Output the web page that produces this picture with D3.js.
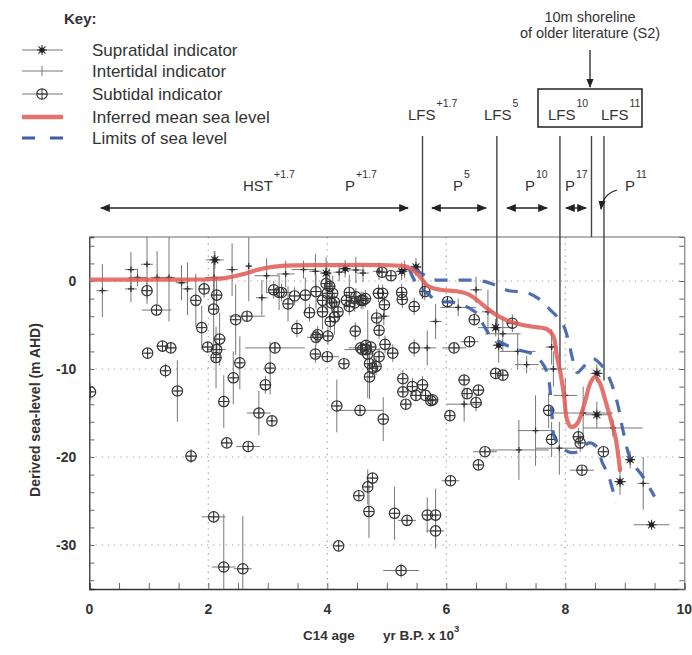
<!DOCTYPE html>
<html><head><meta charset="utf-8">
<script src="https://cdn.jsdelivr.net/npm/d3@7/dist/d3.min.js"></script>
<style>body{margin:0;background:#fff}svg{display:block}text{font-family:"Liberation Sans",Arial,sans-serif}</style>
</head><body><svg id="c" width="692" height="655"></svg>
<script>
// ---------- DATA ----------
// [age (kyr BP), level (m AHD), age half-error, level half-error]
const subtidalPts = [
 [0.02,-12.6,0.05,1],[0.97,-1.1,0.1,1.5],[1.13,-3.3,0.25,0.5],[0.98,-8.2,0.05,0.5],[1.23,-7.4,0.1,0.5],
 [1.37,-7.6,0.1,0.5],[1.28,-10.2,0.05,0.8],[1.48,-12.5,0.05,3.5],[1.71,-19.9,0.1,0.8],[1.79,-2.2,0.05,3],
 [1.93,-0.9,0.1,1],[1.89,-5.3,0.05,2.5],[1.99,-7.5,0.1,0.6],[2.14,-7.8,0.15,0.6],[2.19,-6.6,0.1,3],
 [2.13,-8.7,0.05,3.5],[2.14,-1.6,0.1,2],[2.09,-3.2,0.05,6],[2.46,-4.4,0.05,4],[2.65,-4.0,0.3,0.6],
 [2.53,-9.3,0.05,3],[2.42,-11.0,0.05,3],[2.26,-13.7,0.05,3],[2.31,-18.4,0.1,0.3],[2.67,-18.8,0.2,0.3],
 [2.09,-26.8,0.2,0.3],[2.26,-32.5,0.2,6],[2.58,-32.7,0.15,6],[3.04,-9.9,0.05,3],[2.96,-11.8,0.1,1],
 [2.85,-15.0,0.2,2.5],[3.07,-15.9,0.05,0.5],[3.12,-7.6,0.5,0.5],[3.10,-1.0,0.1,1],[3.19,-1.3,0.2,2],
 [3.34,-2.6,0.05,2],[3.45,-1.7,0.1,1],[3.49,-5.4,0.1,1],[3.23,-1.3,0.1,1],[3.63,-1.6,0.1,2],
 [3.81,-1.2,0.1,2],[3.70,-3.6,0.1,1],[3.92,-3.5,0.1,2],[3.92,-2.2,0.1,1],[3.98,-0.3,0.05,3],
 [4.04,-0.6,0.1,2],[4.09,-1.4,0.05,2],[4.00,-1.4,0.05,2],[4.12,-2.4,0.1,1],[4.07,-2.5,0.05,1],
 [4.18,-3.5,0.05,1],[4.12,-4.1,0.1,2],[4.05,-4.6,0.05,1],[3.84,-6.1,0.1,1],[3.81,-6.4,0.15,1],
 [4.01,-6.25,0.1,1],[3.80,-8.3,0.05,1],[4.00,-8.6,0.2,0.5],[4.28,-9.4,0.05,0.5],[4.37,-1.3,0.05,2],
 [4.37,-2.9,0.05,1],[4.46,-2.5,0.1,1],[4.57,-2.2,0.1,1],[4.64,-2.0,0.1,1],[4.47,-5.7,0.05,1],
 [4.56,-7.6,0.2,0.5],[4.65,-7.3,0.1,0.5],[4.73,-7.5,0.1,0.5],[4.65,-7.8,0.1,0.5],[4.59,-7.8,0.3,0.3],
 [4.68,-8.3,0.05,5],[4.87,-8.6,0.05,1],[4.97,-7.2,0.1,1],[5.10,-8.2,0.1,1],[4.71,-9.4,0.05,1],
 [4.76,-9.9,0.05,1],[4.82,-9.7,0.05,1],[4.71,-10.9,0.05,2.5],[4.87,-5.6,0.05,1],[4.83,-4.2,0.05,1],
 [4.86,-1.4,0.1,1],[4.93,-1.4,0.1,1],[4.96,-2.7,0.05,1],[5.07,0.6,0.1,0.5],[4.92,1.0,0.1,0.5],
 [5.25,-1.3,0.05,1],[5.26,-2.1,0.05,1],[5.46,-2.9,0.05,1],[5.64,-1.2,0.05,1],[5.46,-7.6,0.1,1],
 [5.27,-11.1,0.05,1],[5.43,-12.0,0.1,1],[5.60,-11.8,0.1,1],[5.49,-13.0,0.1,0.5],[5.65,-13.0,0.1,0.5],
 [5.77,-13.5,0.1,0.5],[5.32,-14.0,0.1,0.5],[5.27,-12.6,0.05,0.5],[4.16,-14.2,0.05,3],[4.55,-14.7,0.4,0.3],
 [4.94,-15.7,0.05,2.5],[4.76,-22.4,0.1,0.3],[4.68,-23.4,0.05,2],[4.53,-24.4,0.05,0.3],[4.70,-26.2,0.05,3],
 [5.13,-26.4,0.05,3],[4.19,-30.1,0.05,0.3],[5.24,-32.9,0.3,0.8],[5.34,-27.2,0.15,0.3],[5.68,-26.6,0.05,2],
 [5.82,-26.6,0.05,3],[5.82,-28.4,0.15,2],[5.74,-13.6,0.05,0.5],[6.50,-13.8,0.05,1],[6.06,-15.3,0.05,0.5],
 [6.65,-19.4,0.2,0.3],[6.54,-20.9,0.05,0.3],[6.07,-22.7,0.15,0.3],[6.02,-2.35,0.1,0.5],[6.47,-4.4,0.05,0.5],
 [6.13,-7.6,0.2,0.5],[6.39,-6.9,0.15,0.5],[6.30,-11.25,0.1,0.5],[6.83,-10.5,0.1,0.5],[6.95,-10.7,0.1,0.5],
 [6.35,-12.8,0.1,0.5],[6.54,-12.4,0.1,0.5],[7.72,-14.7,0.1,2],[7.77,-18.0,0.1,2],[8.22,-17.7,0.1,1],
 [8.25,-18.4,0.05,1],[8.28,-21.5,0.2,0.3],[8.64,-19.4,0.05,0.5],[7.11,-4.8,0.1,1],[4.32,-2.2,0.05,1],
 [4.48,-1.8,0.05,1],[4.60,-2.2,0.05,1]
];
const intertidalPts = [
 [0.22,-1.1,0.1,3],[0.70,1.3,0.1,2],[0.70,-0.9,0.1,1.5],[0.81,0.4,0.15,1],[0.97,1.9,0.1,4],
 [1.14,0.4,0.1,3],[1.34,0.4,0.1,5],[1.65,-0.9,0.1,3],[2.10,0.4,0.15,3],[2.40,1.3,0.1,3],
 [2.68,1.7,0.05,4],[2.98,0.6,0.2,2],[2.90,-1.9,0.1,2],[1.55,-0.2,0.1,2],[3.30,0.8,0.15,1.5],
 [3.60,1.3,0.2,1],[3.80,1.1,0.1,2],[4.20,1.0,0.1,1],[4.48,1.25,0.15,1.5],[4.60,0.9,0.1,1],
 [4.87,1.1,0.1,1],[5.30,1.3,0.1,1],[5.82,-4.6,0.1,2],[5.68,-7.6,0.15,2],[6.20,-3.0,0.3,1],
 [6.50,-1.0,0.1,1.5],[6.70,-3.5,0.1,2.5],[6.95,-6.0,0.3,2],[7.20,-8.0,0.3,2],[7.35,-9.5,0.2,1],
 [7.50,-17.0,0.3,4],[7.22,-19.2,0.5,3.4],[7.90,-19.0,0.4,3],[8.00,-13.0,0.2,2],[8.30,-15.0,0.5,3],
 [8.80,-16.7,0.5,1],[9.31,-23.0,0.1,3],[7.77,-7.5,0.1,2],[7.80,-10.0,0.2,2],[6.30,-14.0,0.3,2],
 [4.95,-4.0,0.1,1]
];
const supratidalPts = [
 [2.11,2.4,0.15,1],[3.98,0.9,0.1,1],[4.30,1.4,0.1,1],[5.25,1.1,0.1,1],[5.49,1.6,0.1,1],
 [6.83,-5.3,0.3,1],[6.88,-7.3,0.1,2],[8.53,-10.5,0.1,1],[8.53,-15.2,0.2,1.5],[8.92,-22.8,0.1,1.5],
 [9.09,-20.3,0.05,1],[9.45,-27.7,0.3,0.3]
];
// inferred mean sea level [age, level]
const meanLevel = [[0,0.15],[1.0,0.15],[2.0,0.2],[2.3,0.35],[2.6,0.8],[2.9,1.4],[3.2,1.7],[4.0,1.8],[4.9,1.8],
 [5.35,1.6],[5.5,0.9],[5.7,-0.6],[5.9,-1.0],[6.2,-1.2],[6.4,-1.6],[6.55,-2.35],[6.72,-3.3],[6.93,-4.2],
 [7.16,-4.8],[7.45,-5.2],[7.7,-5.5],[7.8,-6.3],[7.86,-8.6],[7.92,-10.5],[7.98,-13.1],[8.03,-15.8],
 [8.1,-16.6],[8.2,-16.2],[8.32,-14.0],[8.42,-11.6],[8.5,-10.9],[8.58,-11.6],[8.67,-13.5],[8.78,-16.1],
 [8.85,-18],[8.92,-21.5]];
const upperLimit = [[5.45,1.4],[5.6,0.8],[5.75,0.2],[6.0,0.1],[6.3,0.1],[6.6,0.0],[6.8,-0.4],[7.05,-1.1],
 [7.35,-1.3],[7.55,-2.0],[7.75,-3.3],[7.95,-4.8],[8.05,-6.7],[8.12,-8.8],[8.2,-10.4],[8.3,-9.8],[8.45,-8.8],
 [8.6,-9.5],[8.75,-11.2],[8.88,-14],[8.97,-17],[9.1,-20.3],[9.3,-22.2],[9.5,-24.5]];
const lowerLimit = [[5.38,1.3],[5.5,-0.3],[5.7,-1.5],[5.85,-2.3],[6.1,-2.4],[6.3,-2.8],[6.5,-3.6],[6.6,-4.7],
 [6.75,-6.3],[6.95,-7.1],[7.2,-7.8],[7.45,-8.3],[7.6,-9.2],[7.7,-10.5],[7.75,-12.8],[7.78,-15.5],[7.82,-17.8],
 [7.95,-19],[8.1,-19.5],[8.25,-19.3],[8.4,-18.4],[8.52,-18.8],[8.62,-20.6],[8.72,-22],[8.8,-23.8],[8.86,-25.2]];
const lfsAges = [5.6, 6.85, 7.91, 8.44, 8.65];
const lfsEnds = [-2, -5, -10, 5, -11.3];
const xTicks = [0,2,4,6,8,10];
const yTicks = [0,-10,-20,-30];
const legendLabels = ["Supratidal indicator","Intertidal indicator","Subtidal indicator","Inferred mean sea level","Limits of sea level"];

// ---------- DRAW ----------
const svg = d3.select("#c");
const x = d3.scaleLinear().domain([0,10]).range([89.3,684.3]);
const y = d3.scaleLinear().domain([-35,5]).range([589,237]);
const ink = "#333", grey = "#666";

svg.append("defs").append("clipPath").attr("id","clip").append("rect")
  .attr("x",x(0)).attr("y",y(5)).attr("width",x(10)-x(0)).attr("height",y(-35)-y(5));

// grid
const grid = svg.append("g").attr("stroke","#999").attr("stroke-dasharray","1.2,5").attr("stroke-width",1.2);
yTicks.forEach(v=>grid.append("line").attr("x1",x(0)).attr("x2",x(10)).attr("y1",y(v)).attr("y2",y(v)));
xTicks.slice(1,-1).forEach(v=>grid.append("line").attr("y1",y(5)).attr("y2",y(-35)).attr("x1",x(v)).attr("x2",x(v)));

// axes with inward ticks
svg.append("g").attr("transform",`translate(0,${y(-35)})`)
  .call(d3.axisTop(x).tickValues(d3.range(0,10.01,0.5)).tickSize(6).tickFormat(""))
  .call(g=>{g.select(".domain").attr("stroke",ink).attr("stroke-width",1.5);g.selectAll(".tick line").attr("stroke",grey);});
svg.append("g").attr("transform",`translate(${x(0)},0)`)
  .call(d3.axisRight(y).tickValues(d3.range(-34,5,2)).tickSize(5).tickFormat(""))
  .call(g=>{g.select(".domain").attr("stroke",ink).attr("stroke-width",1.3);g.selectAll(".tick line").attr("stroke",grey);});
svg.append("g").attr("transform",`translate(${x(10)},0)`)
  .call(d3.axisLeft(y).tickValues(d3.range(-34,5,2)).tickSize(5).tickFormat(""))
  .call(g=>{g.select(".domain").attr("stroke",grey).attr("stroke-width",1);g.selectAll(".tick line").attr("stroke",grey);});
svg.append("line").attr("x1",x(0)).attr("x2",x(10)).attr("y1",y(5)).attr("y2",y(5)).attr("stroke",grey);

// tick labels
svg.append("g").selectAll("text").data(xTicks).join("text")
  .attr("x",d=>x(d)).attr("y",614).attr("text-anchor","middle").attr("font-size",14).attr("font-weight","bold").attr("fill",ink).text(d=>d);
svg.append("g").selectAll("text").data(yTicks).join("text")
  .attr("x",x(0)-13).attr("y",d=>y(d)+5).attr("text-anchor","end").attr("font-size",14).attr("font-weight","bold").attr("fill",ink).text(d=>d);

// axis titles
const xl = svg.append("text").attr("y",640).attr("font-size",13.5).attr("font-weight","bold").attr("fill",ink);
xl.append("tspan").attr("x",303).text("C14 age");
xl.append("tspan").attr("x",383).text("yr B.P. x 10");
xl.append("tspan").attr("dy",-8).attr("font-size",9.5).text("3");
svg.append("text").attr("transform","translate(40,410) rotate(-90)").attr("text-anchor","middle")
  .attr("font-size",14).attr("font-weight","bold").attr("fill",ink).text("Derived sea-level  (m AHD)");

// LFS vertical lines
svg.append("g").selectAll("line").data(lfsAges).join("line")
  .attr("x1",d=>x(d)).attr("x2",d=>x(d)).attr("y1",136).attr("y2",(d,i)=>y(lfsEnds[i]))
  .attr("stroke","#444").attr("stroke-width",1.4);

const plot = svg.append("g").attr("clip-path","url(#clip)");

// symbols
function errBars(g,d){
  g.append("line").attr("x1",x(d[0]-d[2])).attr("x2",x(d[0]+d[2])).attr("y1",y(d[1])).attr("y2",y(d[1]));
  g.append("line").attr("x1",x(d[0])).attr("x2",x(d[0])).attr("y1",y(d[1]-d[3])).attr("y2",y(d[1]+d[3]));
}
const eb = plot.append("g").attr("stroke","#777").attr("stroke-width",1);
[...subtidalPts,...intertidalPts,...supratidalPts].forEach(d=>errBars(eb,d));

function drawCircle(g,cx,cy){
  g.append("circle").attr("cx",cx).attr("cy",cy).attr("r",5.2).attr("fill","none").attr("stroke",ink).attr("stroke-width",1.2);
  g.append("line").attr("x1",cx-5).attr("x2",cx+5).attr("y1",cy).attr("y2",cy).attr("stroke",ink).attr("stroke-width",1);
  g.append("line").attr("x1",cx).attr("x2",cx).attr("y1",cy-5).attr("y2",cy+5).attr("stroke",ink).attr("stroke-width",1);
}
function drawTick(g,cx,cy){
  g.append("line").attr("x1",cx-3).attr("x2",cx+3).attr("y1",cy).attr("y2",cy).attr("stroke",ink).attr("stroke-width",1.3);
  g.append("line").attr("x1",cx).attr("x2",cx).attr("y1",cy-3).attr("y2",cy+3).attr("stroke",ink).attr("stroke-width",1.3);
}
function drawStar(g,cx,cy){
  [0,45,90,135].forEach(a=>{const r=a*Math.PI/180,c=Math.cos(r)*5,s=Math.sin(r)*5;
    g.append("line").attr("x1",cx-c).attr("x2",cx+c).attr("y1",cy-s).attr("y2",cy+s).attr("stroke",ink).attr("stroke-width",1.1);});
  g.append("circle").attr("cx",cx).attr("cy",cy).attr("r",2.6).attr("fill","#222");
}
const sym = plot.append("g");
intertidalPts.forEach(d=>drawTick(sym,x(d[0]),y(d[1])));
subtidalPts.forEach(d=>drawCircle(sym,x(d[0]),y(d[1])));
supratidalPts.forEach(d=>drawStar(sym,x(d[0]),y(d[1])));

// curves
const line = d3.line().x(d=>x(d[0])).y(d=>y(d[1])).curve(d3.curveCatmullRom.alpha(0.5));
const blue = "#3c5ea8", red = "#df5a55";
plot.append("path").attr("d",line(upperLimit)).attr("fill","none").attr("stroke",blue).attr("stroke-width",3.2).attr("stroke-dasharray","13,11").attr("opacity",0.9);
plot.append("path").attr("d",line(lowerLimit)).attr("fill","none").attr("stroke",blue).attr("stroke-width",3.2).attr("stroke-dasharray","13,11").attr("opacity",0.9);
plot.append("path").attr("d",line(meanLevel)).attr("fill","none").attr("stroke",red).attr("stroke-width",4.2).attr("opacity",0.85).attr("stroke-linecap","round");

// ---------- annotations ----------
const T = (txt,xx,yy,fs,opt={})=>svg.append("text").attr("x",xx).attr("y",yy).attr("font-size",fs)
  .attr("fill",ink).attr("text-anchor",opt.anchor||"start").attr("font-weight",opt.bold?"bold":"normal").text(txt);

T("Key:",64,24,15,{bold:true});
const ly = [50,71,94,117,138];
legendLabels.forEach((l,i)=>T(l,92,ly[i]+6,17));
const lg = svg.append("g");
[0,1,2].forEach(i=>lg.append("line").attr("x1",22).attr("x2",63).attr("y1",ly[i]).attr("y2",ly[i]).attr("stroke","#777"));
drawStar(lg,42,ly[0]); 
lg.append("line").attr("x1",42).attr("x2",42).attr("y1",ly[1]-5).attr("y2",ly[1]+5).attr("stroke","#777");
drawCircle(lg,42,ly[2]);
lg.append("line").attr("x1",22).attr("x2",63).attr("y1",ly[3]).attr("y2",ly[3]).attr("stroke",red).attr("stroke-width",4.5).attr("opacity",0.85);
lg.append("line").attr("x1",22).attr("x2",63).attr("y1",ly[4]).attr("y2",ly[4]).attr("stroke",blue).attr("stroke-width",3).attr("stroke-dasharray","13,15");

// top note
T("10m shoreline",590,22,14.5,{anchor:"middle"});
T("of older literature (S2)",590,38,14.5,{anchor:"middle"});
svg.append("defs").append("marker").attr("id","ah").attr("viewBox","0 0 10 10").attr("refX",9).attr("refY",5)
  .attr("markerWidth",7).attr("markerHeight",7).attr("orient","auto-start-reverse")
  .append("path").attr("d","M0,1 L10,5 L0,9 Z").attr("fill","#222");
svg.append("line").attr("x1",590).attr("x2",590).attr("y1",50).attr("y2",87).attr("stroke","#222").attr("stroke-width",1.3).attr("marker-end","url(#ah)");
svg.append("rect").attr("x",538).attr("y",89).attr("width",104).attr("height",38).attr("fill","none").attr("stroke","#222").attr("stroke-width",1.5);

function labSup(base,sup,xx,yy,fs){
  const t = svg.append("text").attr("x",xx).attr("y",yy).attr("font-size",fs).attr("fill",ink);
  t.append("tspan").text(base);
  t.append("tspan").attr("dy",-13).attr("dx",1).attr("font-size",10.5).text(sup);
}
labSup("LFS","+1.7",408,120,15);
labSup("LFS","5",484,120,15);
labSup("LFS","10",548,120,15);
labSup("LFS","11",601,120,15);
labSup("HST","+1.7",243,191,15);
labSup("P","+1.7",345,191,15);
labSup("P","5",453,191,15);
labSup("P","10",525,191,15);
labSup("P","17",565,191,15);
labSup("P","11",625,191,15);

// arrows
const arrows = [[101,408],[432,486],[507,547],[566,586]];
arrows.forEach(a=>svg.append("line").attr("x1",a[0]).attr("x2",a[1]).attr("y1",208).attr("y2",208)
  .attr("stroke","#222").attr("stroke-width",1.4).attr("marker-start","url(#ah)").attr("marker-end","url(#ah)"));
svg.append("path").attr("d","M617,190 Q603,194 601,209").attr("fill","none").attr("stroke","#222").attr("stroke-width",1.3).attr("marker-end","url(#ah)");
</script></body></html>
